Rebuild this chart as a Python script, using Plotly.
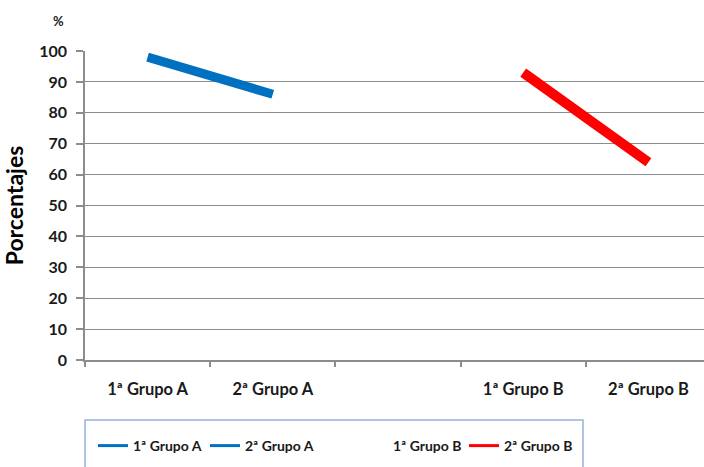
import plotly.graph_objects as go

categories = ["1ª Grupo A", "2ª Grupo A", " ", "1ª Grupo B", "2ª Grupo B"]
grupo_a_x = ["1ª Grupo A", "2ª Grupo A"]
grupo_a_values = [98, 86]
grupo_b_x = ["1ª Grupo B", "2ª Grupo B"]
grupo_b_values = [93, 64]
y_ticks = [0, 10, 20, 30, 40, 50, 60, 70, 80, 90, 100]
legend_a = ["1ª Grupo A", "2ª Grupo A"]
legend_b = ["1ª Grupo B", "2ª Grupo B"]

BLUE = "#0070C0"
RED = "#FF0000"
GRID = "#8C8C8C"
FONT = "Lato"
TXT = "#1a1a1a"

fig = go.Figure()
fig.add_trace(go.Scatter(x=grupo_a_x, y=grupo_a_values, mode="lines", name="1ª Grupo A",
                         line=dict(color=BLUE, width=9), showlegend=False))
fig.add_trace(go.Scatter(x=grupo_b_x, y=grupo_b_values, mode="lines", name="2ª Grupo B",
                         line=dict(color=RED, width=10), showlegend=False))
# legend entries (thin sample lines as in the original)
legend_colors = {"1ª Grupo A": BLUE, "2ª Grupo A": BLUE,
                 "1ª Grupo B": "rgba(255,255,255,0)", "2ª Grupo B": RED}
for name in legend_a:
    fig.add_trace(go.Scatter(x=[None], y=[None], mode="lines", name=name,
                             line=dict(color=legend_colors[name], width=3), legend="legend"))
for name in legend_b:
    fig.add_trace(go.Scatter(x=[None], y=[None], mode="lines", name=name,
                             line=dict(color=legend_colors[name], width=3), legend="legend2"))

W, H = 704, 467
L, R, T, B = 85, 0, 51, 107
plot_w = W - L - R
plot_h = H - T - B

def px_x(p):
    return (p - L) / plot_w

def px_y(p):
    return (H - B - p) / plot_h

fig.update_layout(
    width=W, height=H,
    margin=dict(l=L, r=R, t=T, b=B, autoexpand=False),
    plot_bgcolor="white", paper_bgcolor="white",
    font=dict(family=FONT, color=TXT, size=15, weight="bold"),
    xaxis=dict(
        type="category", categoryorder="array", categoryarray=categories,
        range=[-0.5, 4.5 - 7 / 125], automargin=False,
        tickson="boundaries", ticks="outside", ticklen=5, tickcolor=GRID, tickwidth=1.5,
        showline=True, linecolor=GRID, linewidth=1.5, showgrid=False,
        tickfont=dict(family=FONT, size=16.5, color=TXT, weight="bold"),
        ticklabelstandoff=13,
    ),
    yaxis=dict(
        range=[0, 100], tickvals=y_ticks, ticks="outside", ticklen=7, tickcolor=GRID, tickwidth=1.5,
        showline=True, linecolor=GRID, linewidth=1.5, automargin=False,
        showgrid=True, gridcolor=GRID, gridwidth=1, zeroline=False,
        tickfont=dict(family=FONT, size=16, color=TXT, weight="bold"),
        ticklabelstandoff=6,
        title=dict(text="Porcentajes", font=dict(family=FONT, size=23, color="black", weight="bold"), standoff=10),
    ),
    legend=dict(orientation="h", xref="container", yref="container",
                x=93 / W, y=1 - 446 / H, xanchor="left", yanchor="middle",
                entrywidth=67, entrywidthmode="pixels", itemwidth=30,
                font=dict(family=FONT, size=14, color=TXT, weight="bold"),
                bgcolor="rgba(0,0,0,0)", borderwidth=0),
    legend2=dict(orientation="h", xref="container", yref="container",
                 x=353 / W, y=1 - 446 / H, xanchor="left", yanchor="middle",
                 entrywidth=66, entrywidthmode="pixels", itemwidth=30,
                 font=dict(family=FONT, size=14, color=TXT, weight="bold"),
                 bgcolor="rgba(0,0,0,0)", borderwidth=0),
    showlegend=True,
    shapes=[dict(type="rect", xref="paper", yref="paper",
                 x0=px_x(85), x1=px_x(583), y0=px_y(420), y1=px_y(475),
                 line=dict(color="#95B3D7", width=1.5), fillcolor="rgba(0,0,0,0)", layer="above")],
    annotations=[dict(text="%", xref="paper", yref="paper", x=px_x(58), y=px_y(21),
                      xanchor="center", yanchor="middle", showarrow=False,
                      font=dict(family=FONT, size=13, color=TXT, weight="bold"))],
)

fig.write_html("out.html", config={"displayModeBar": False},
               post_script="document.body.style.margin='0';document.body.style.overflow='hidden';")
